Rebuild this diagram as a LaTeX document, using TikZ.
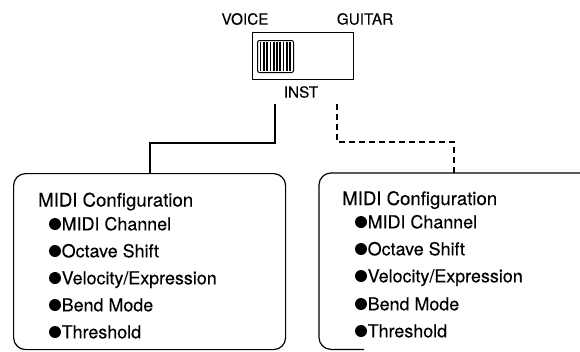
\documentclass[tikz,border=0pt]{standalone}
\usepackage{fontspec}
\setmainfont{TeX Gyre Heros}[FakeBold=0.2]
\begin{document}
\begin{tikzpicture}[x=1pt,y=-1pt,
  boxline/.style={line width=1.2pt, rounded corners=12pt},
  solidconn/.style={line width=1.9pt},
  dashconn/.style={line width=1.7pt, dash pattern=on 6pt off 4pt},
  lbl/.style={inner sep=0pt, font=\fontsize{15.3}{15}\selectfont},
  head/.style={inner sep=0pt, anchor=base west, font=\fontsize{18.6}{18}\selectfont},
  item/.style={inner sep=0pt, anchor=base west, font=\fontsize{17.9}{18}\selectfont},
  dot/.style={circle, fill=black, minimum size=12pt, inner sep=0pt}
]
\useasboundingbox (0,0) rectangle (580,351);

% switch
\node[lbl] (voice) at (245,19) {VOICE};
\node[lbl] (guitar) at (365,19) {GUITAR};
\node[draw, line width=1.2pt, minimum width=101pt, minimum height=47pt, inner sep=0pt, anchor=north west] (switch) at (252,32) {};
\node[draw, line width=1pt, rounded corners=2pt, minimum width=36pt, minimum height=32pt, inner sep=0pt, anchor=north west] (knob) at (257,40) {};
\foreach \x in {260.5,263.8,...,291} \draw[line width=1.7pt] (\x,41.5) -- (\x,70.5);
\node[lbl] (inst) at (301,92) {INST};

% boxes
\node[draw, boxline, minimum width=272pt, minimum height=176pt, inner sep=0pt, anchor=north west] (lbox) at (13,173) {};
\node[minimum width=281pt, minimum height=176pt, inner sep=0pt, anchor=north west] (rbox) at (319,173) {};
\draw[boxline] ([xshift=290pt]rbox.north west) -- (rbox.north west) -- (rbox.south west) -- ([xshift=45pt]rbox.south west);

% connectors
\coordinate (sw1) at (275,104);
\coordinate (sw2) at (337,104);
\draw[solidconn] (sw1) -- ++(0,39) -| (lbox.north);
\draw[dashconn] (sw2) -- ++(0,38) -| ([xshift=135pt]rbox.north west);

% left texts
\node[head] (lh) at (38,206.5) {MIDI Configuration};
\foreach \n/\t/\y in {1/{MIDI Channel}/224, 2/{Octave Shift}/251, 3/{Velocity/Expression}/278, 4/{Bend Mode}/305, 5/{Threshold}/332}{
  \node[dot] (ld\n) at (55,\y) {};
  \node[item] (lt\n) at (61.5,\y+6.3) {\t};
}
% right texts
\node[head] (rh) at (342,205) {MIDI Configuration};
\foreach \n/\t/\y in {1/{MIDI Channel}/222, 2/{Octave Shift}/249, 3/{Velocity/Expression}/276, 4/{Bend Mode}/304, 5/{Threshold}/331}{
  \node[dot] (rd\n) at (361,\y) {};
  \node[item] (rt\n) at (367.5,\y+6.3) {\t};
}
\end{tikzpicture}
\end{document}
